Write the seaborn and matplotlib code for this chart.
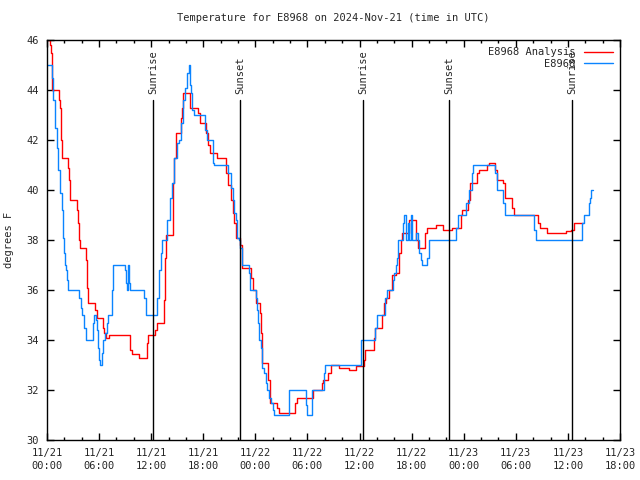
import matplotlib
matplotlib.use("Agg")
import matplotlib.pyplot as plt
import seaborn as sns
import pandas as pd

# hours since 2024-11-21 00:00 UTC
obs_hours = [0.00, 0.54, 0.69, 0.92, 1.12, 1.30, 1.50, 1.69, 1.88, 1.92, 2.04, 2.22, 2.34, 2.45,
             3.69, 3.88, 4.07, 4.26, 4.46, 5.33, 5.45, 5.59, 5.72, 5.91, 6.02, 6.14, 6.30, 6.42,
             6.68, 6.88, 6.99, 7.45, 7.60, 8.98, 9.10, 9.25, 9.36, 9.48, 9.62, 11.21, 11.40,
             12.70, 12.90, 13.13, 13.30, 13.82, 14.17, 14.40, 14.63, 14.92, 15.20, 15.47, 15.63,
             15.90, 16.16, 16.32, 16.47, 16.59, 16.74, 16.88, 18.20, 18.43, 19.09, 19.24, 20.85,
             21.16, 21.39, 21.54, 21.77, 21.92, 22.12, 22.29, 22.43, 23.27, 23.44, 24.04, 24.16,
             24.34, 24.45, 24.62, 24.80, 25.03, 25.23, 25.34, 25.57, 25.80, 26.00, 26.15, 27.88,
             29.78, 29.95, 30.47, 31.91, 32.08, 36.17, 37.84, 38.07, 38.93, 39.13, 39.80, 40.01,
             40.20, 40.35, 40.47, 41.01, 41.18, 41.30, 41.53, 41.70, 41.96, 42.10, 42.45, 42.68,
             42.85, 43.08, 43.16, 43.83, 44.04, 47.17, 47.38, 48.26, 48.61, 48.96, 49.10, 51.64,
             51.78, 52.53, 52.76, 56.13, 56.38, 61.66, 61.86, 62.38, 62.55, 62.66, 62.95]
obs_temp = [45.0, 44.5, 43.6, 42.5, 41.7, 40.8, 39.9, 39.2, 38.1, 37.5, 37.0, 36.8, 36.4, 36.0,
            35.7, 35.3, 35.0, 34.5, 34.0, 34.7, 35.0, 34.8, 34.4, 33.7, 33.2, 33.0, 33.5, 34.0,
            34.3, 34.7, 35.0, 36.0, 37.0, 36.8, 36.3, 36.0, 37.0, 36.3, 36.0, 35.7, 35.0,
            35.7, 36.8, 37.5, 38.0, 38.8, 39.7, 40.3, 41.3, 41.9, 42.0, 42.7, 43.6,
            44.1, 44.7, 45.0, 44.2, 43.9, 43.2, 43.0, 42.4, 42.0, 41.1, 41.0, 40.7,
            40.1, 39.6, 39.1, 38.8, 38.1, 38.0, 37.7, 37.0, 36.7, 36.0, 35.7, 35.2,
            34.7, 34.0, 33.7, 32.9, 32.7, 32.3, 32.0, 31.7, 31.5, 31.2, 31.0, 32.0,
            31.4, 31.0, 32.0, 32.7, 33.0, 34.0, 34.5, 35.0, 35.7, 36.0, 36.4, 36.7,
            37.0, 37.3, 38.0, 38.7, 39.0, 38.0, 38.7, 38.0, 39.0, 38.0, 38.3, 38.0,
            37.5, 37.2, 37.0, 37.3, 38.0, 38.5, 39.0, 39.5, 40.0, 40.7, 41.0, 40.7,
            40.0, 39.5, 39.0, 38.4, 38.0, 38.7, 39.0, 39.5, 39.7, 40.0, 40.0]

ana_hours = [0.00, 0.35, 0.46, 0.54, 0.61, 1.38, 1.50, 1.58, 1.69, 2.45, 2.57, 2.68, 3.42, 3.54,
             3.69, 3.84, 4.46, 4.57, 4.64, 4.69, 5.53, 5.72, 6.48, 6.62, 6.80, 7.18, 9.56, 9.76,
             10.63, 11.48, 11.63, 12.44, 12.70, 13.51, 13.63, 13.74, 14.46, 14.55, 14.66, 14.82,
             15.40, 15.55, 15.70, 16.51, 17.43, 17.66, 18.31, 18.54, 18.77, 19.58, 20.65, 20.81,
             21.23, 21.42, 21.57, 21.74, 22.29, 22.52, 23.49, 23.73, 24.02, 24.48, 24.65, 24.82,
             25.51, 25.69, 26.55, 26.78, 28.62, 28.80, 30.64, 31.67, 31.85, 32.37, 32.77, 33.63,
             34.78, 35.59, 36.57, 36.68, 37.66, 37.84, 38.64, 38.81, 39.10, 39.45, 39.74, 40.20,
             40.56, 40.77, 40.85, 41.75, 42.56, 42.73, 43.59, 43.77, 44.80, 45.67, 46.70, 47.68,
             47.85, 48.55, 48.78, 49.58, 49.81, 50.74, 50.91, 51.66, 51.83, 52.58, 52.81, 53.62,
             53.79, 56.61, 56.84, 57.59, 59.78, 60.36, 60.71, 61.78]
ana_temp = [46.0, 45.8, 45.5, 45.1, 44.0, 43.6, 43.3, 42.0, 41.3, 40.9, 40.4, 39.6, 39.2, 38.7,
            38.0, 37.7, 37.2, 36.6, 36.1, 35.5, 35.2, 34.9, 34.5, 34.3, 34.1, 34.2, 33.6, 33.45,
            33.3, 33.9, 34.2, 34.4, 34.7, 35.6, 37.3, 38.2, 39.3, 40.3, 41.3, 42.3,
            42.9, 43.3, 43.9, 43.3, 43.1, 42.7, 42.3, 41.8, 41.5, 41.3, 40.7, 40.2,
            39.6, 39.1, 38.7, 38.1, 37.8, 36.9, 36.5, 36.0, 35.5, 35.1, 34.3, 33.1,
            32.4, 31.5, 31.3, 31.1, 31.5, 31.7, 32.0, 32.3, 32.4, 32.7, 33.0, 32.9,
            32.8, 32.95, 33.2, 33.6, 34.1, 34.5, 35.0, 35.5, 35.7, 36.0, 36.6, 36.7,
            37.5, 38.0, 38.3, 38.8, 38.0, 37.7, 38.3, 38.5, 38.6, 38.4, 38.5, 39.0,
            39.2, 39.6, 40.3, 40.7, 40.8, 41.0, 41.1, 40.8, 40.4, 40.3, 39.7, 39.3,
            39.0, 38.7, 38.5, 38.3, 38.35, 38.4, 38.7, 38.7]

sun_events = ["Sunrise", "Sunset", "Sunrise", "Sunset", "Sunrise"]
sun_hours = [12.21, 22.23, 36.40, 46.31, 60.48]

tick_hours = list(range(0, 67, 6))
tick_labels = ["11/21\n00:00", "11/21\n06:00", "11/21\n12:00", "11/21\n18:00",
               "11/22\n00:00", "11/22\n06:00", "11/22\n12:00", "11/22\n18:00",
               "11/23\n00:00", "11/23\n06:00", "11/23\n12:00", "11/23\n18:00"]

sns.set_style("ticks")
plt.rcParams['font.family'] = ['DejaVu Sans Mono']
fs = 7.5

fig = plt.figure(figsize=(6.4, 4.8), dpi=100)
ax = fig.add_axes([0.0734, 0.0833, 0.8953, 0.8333])

ana = pd.DataFrame({"hours": ana_hours, "temp": ana_temp})
obs = pd.DataFrame({"hours": obs_hours, "temp": obs_temp})
sns.lineplot(data=ana, x="hours", y="temp", ax=ax, color="#ff0000", linewidth=1.0,
             drawstyle="steps-post", estimator=None, sort=False, label="E8968 Analysis")
sns.lineplot(data=obs, x="hours", y="temp", ax=ax, color="#0a84ff", linewidth=1.0,
             drawstyle="steps-post", estimator=None, sort=False, label="E8968")

for name, h in zip(sun_events, sun_hours):
    ax.plot([h, h], [30, 43.6], color="black", linewidth=1.0)
    ax.text(h, 43.85, name, rotation=90, ha="center", va="bottom", fontsize=fs)

ax.set_xlim(0, 66)
ax.set_ylim(30, 46)
ax.set_xticks(tick_hours)
ax.set_xticklabels(tick_labels, fontsize=fs, linespacing=1.35)
ax.set_xticks(range(0, 67, 2), minor=True)
ax.set_yticks(range(30, 47, 2))
ax.tick_params(axis="y", labelsize=fs, pad=6)
ax.tick_params(axis="x", pad=6)
ax.tick_params(which="both", direction="in", top=True, right=True, width=1.0, color="black")
ax.tick_params(which="major", length=5)
ax.tick_params(which="minor", length=2.5)
for s in ax.spines.values():
    s.set_linewidth(1.0)
    s.set_color("black")

ax.set_xlabel("")
ax.set_ylabel("degrees F", fontsize=fs, labelpad=9)
ax.set_title("Temperature for E8968 on 2024-Nov-21 (time in UTC)", fontsize=fs, pad=14)

ax.legend(loc="upper right", frameon=False, fontsize=fs, markerfirst=False,
          handlelength=2.8, handletextpad=0.8, borderaxespad=0.3, labelspacing=0.15)

fig.savefig("out.png", dpi=100)
